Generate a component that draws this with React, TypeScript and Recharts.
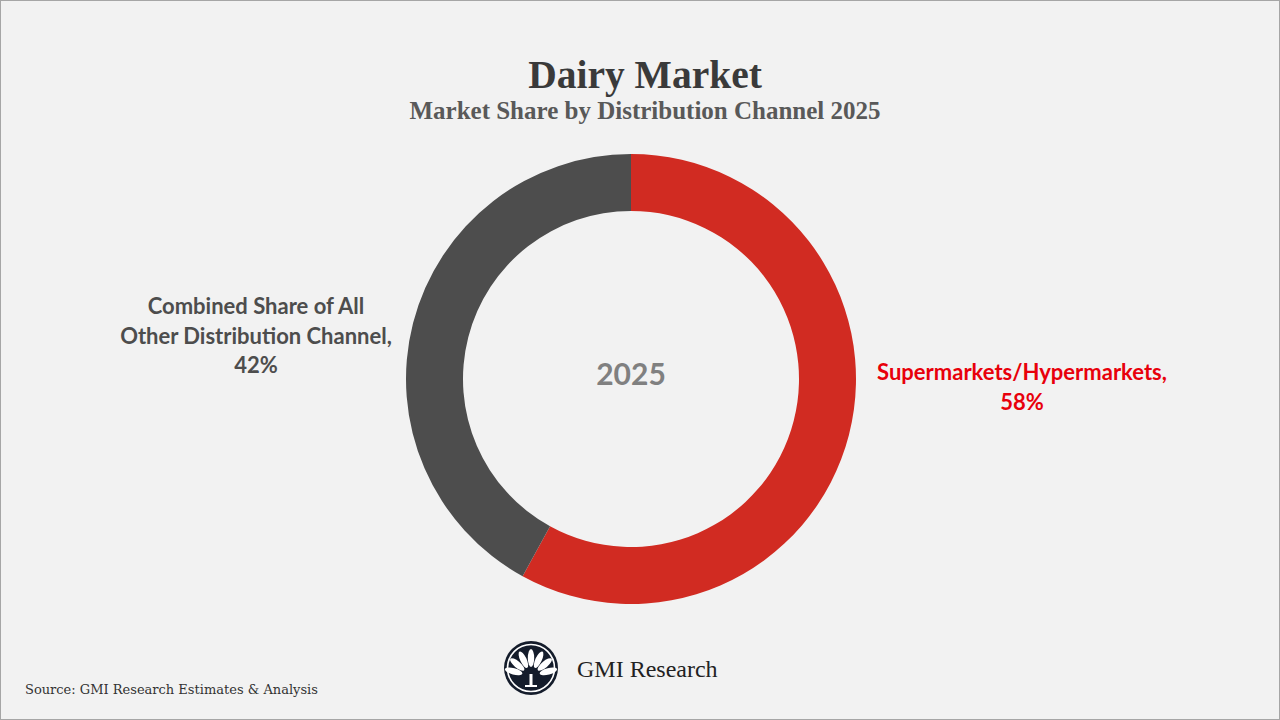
import { Cell, Pie, PieChart } from "recharts";

const channels = ["Supermarkets/Hypermarkets", "Combined Share of All Other Distribution Channel"];
const shares = [58, 42];
const sliceColors = ["#d12b22", "#4d4d4d"];
const labelLines = [
  ["Supermarkets/Hypermarkets,", "58%"],
  ["Combined Share of All", "Other Distribution Channel,", "42%"],
];
const labelColors = ["#e8000b", "#4d4d4d"];
const centerText = "2025";

const data = channels.map((name, i) => ({ name, value: shares[i] }));

const labelFont = "Lato, 'Open Sans', sans-serif";

interface LabelProps {
  cx?: number;
  cy?: number;
  outerRadius?: number;
  index?: number;
}

// Excel-style labels: right one beside the ring, left one raised a little
function SliceLabel({ cx = 0, cy = 0, outerRadius = 0, index = 0 }: LabelProps) {
  const lines = labelLines[index];
  const right = index === 0;
  const x = right ? cx + outerRadius + 166 : cx - outerRadius - 150;
  const top = right ? cy + 1 : cy - 65;
  return (
    <g>
      <text
        x={x}
        y={top}
        textAnchor="middle"
        fill={labelColors[index]}
        fontFamily={labelFont}
        fontWeight={700}
        fontSize={22}
      >
        {lines.map((l, i) => (
          <tspan key={i} x={x} dy={i === 0 ? 0 : 29.5}>
            {l}
          </tspan>
        ))}
      </text>
      {index === 0 && (
        <text
          x={cx}
          y={cy + 6}
          textAnchor="middle"
          fill="#808080"
          fontFamily={labelFont}
          fontWeight={700}
          fontSize={30}
        >
          {centerText}
        </text>
      )}
    </g>
  );
}

function Logo() {
  const cx = 531;
  const cy = 668;
  const petals = [-75, -50, -25, 0, 25, 50, 75];
  return (
    <g>
      <circle cx={cx} cy={cy} r={27} fill="#141c2b" />
      <circle cx={cx} cy={cy} r={23.5} fill="none" stroke="#fff" strokeWidth={1.6} />
      {petals.map((a) => (
        <ellipse
          key={a}
          cx={cx}
          cy={cy - 4}
          rx={3.2}
          ry={9}
          fill="#fff"
          transform={`rotate(${a} ${cx} ${cy + 8}) translate(0 -6)`}
        />
      ))}
      <rect x={cx - 1.5} y={cy + 6} width={3} height={12} fill="#fff" />
      <rect x={cx - 6} y={cy + 17} width={12} height={2} fill="#fff" />
    </g>
  );
}

export default function App() {
  return (
    <div
      style={{
        position: "absolute",
        left: 0,
        top: 0,
        width: 1280,
        height: 720,
        boxSizing: "border-box",
        border: "1px solid #a6a6a6",
        background: "#f2f2f2",
        overflow: "hidden",
      }}
    >
      <svg
        width={1280}
        height={720}
        style={{ position: "absolute", left: -1, top: -1 }}
      >
        <text
          x={645}
          y={88}
          textAnchor="middle"
          fill="#3a3a3a"
          fontFamily="'Liberation Serif', serif"
          fontWeight={700}
          fontSize={39.5}
        >
          Dairy Market
        </text>
        <text
          x={645}
          y={119}
          textAnchor="middle"
          fill="#595959"
          fontFamily="'Liberation Serif', serif"
          fontWeight={700}
          fontSize={25}
        >
          Market Share by Distribution Channel 2025
        </text>
        <Logo />
        <text
          x={577}
          y={677}
          fill="#222"
          fontFamily="'Liberation Serif', serif"
          fontSize={24}
        >
          GMI Research
        </text>
        <text
          x={25}
          y={694}
          fill="#333"
          fontFamily="'DejaVu Serif', serif"
          fontSize={13}
        >
          Source: GMI Research Estimates &amp; Analysis
        </text>
      </svg>
      <div style={{ position: "absolute", left: -1, top: -1 }}>
        <PieChart width={1280} height={720} margin={{ top: 0, right: 0, bottom: 0, left: 0 }}>
          <Pie
            data={data}
            dataKey="value"
            nameKey="name"
            cx={631}
            cy={379}
            innerRadius={168}
            outerRadius={225}
            startAngle={90}
            endAngle={-270}
            stroke="none"
            label={SliceLabel}
            labelLine={false}
            isAnimationActive={false}
          >
            {data.map((d, i) => (
              <Cell key={d.name} fill={sliceColors[i]} />
            ))}
          </Pie>
        </PieChart>
      </div>
    </div>
  );
}
